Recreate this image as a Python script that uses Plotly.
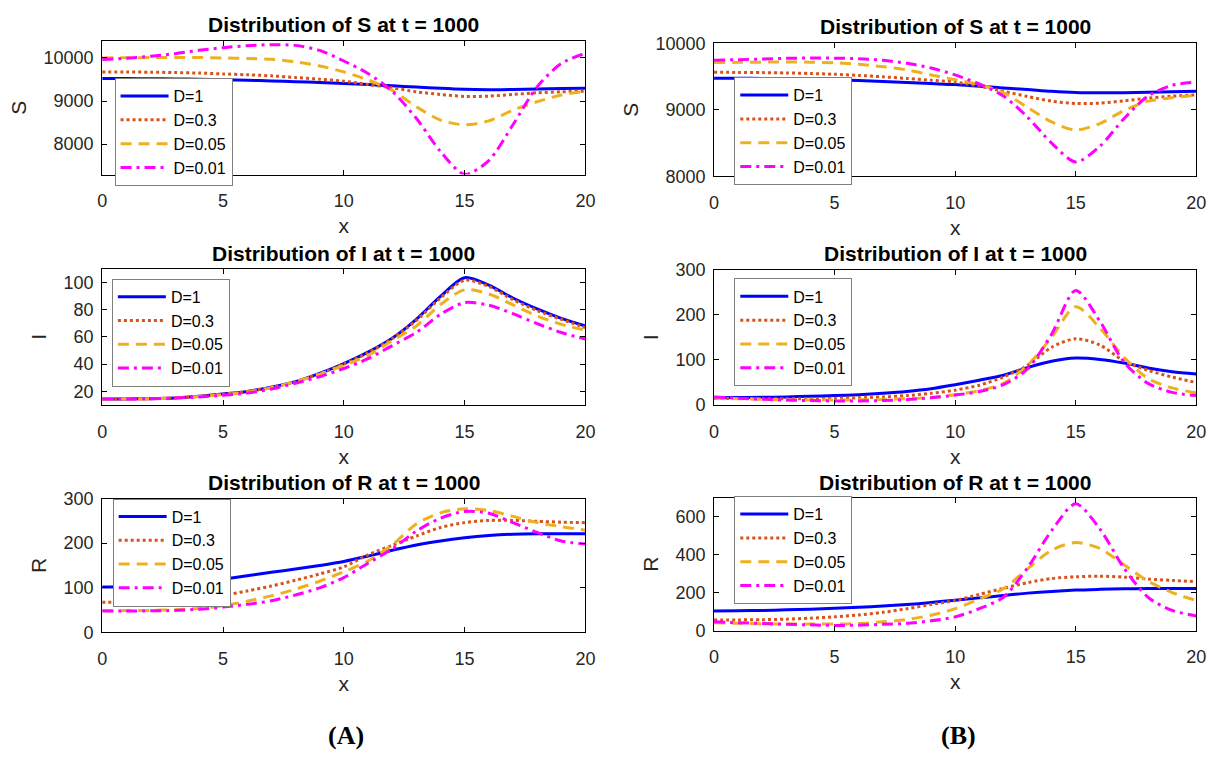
import plotly.graph_objects as go

W, H = 1229, 761

x = list(range(21))
labels = ["D=1", "D=0.3", "D=0.05", "D=0.01"]
colors = ["#0000FF", "#D95319", "#EDB120", "#FF00FF"]
dashes = ["solid", "3px,3px", "11px,7px", "11px,5px,3px,5px"]

# Panel (A)
A_S = [
    [9523, 9521, 9518, 9513, 9505, 9495, 9482, 9467, 9450, 9430, 9408, 9382, 9354, 9325, 9295, 9272, 9265, 9268, 9280, 9292, 9300],
    [9677, 9675, 9670, 9662, 9650, 9630, 9610, 9585, 9546, 9508, 9462, 9385, 9308, 9215, 9154, 9108, 9115, 9154, 9192, 9215, 9230],
    [10000, 10005, 10010, 10012, 10010, 10000, 9990, 9970, 9910, 9815, 9677, 9490, 9250, 8870, 8560, 8450, 8540, 8790, 8985, 9140, 9230],
    [9962, 9995, 10038, 10100, 10177, 10238, 10285, 10308, 10292, 10175, 9930, 9640, 9230, 8600, 7830, 7300, 7620, 8450, 9330, 9870, 10110],
]
A_I = [
    [14.5, 14.5, 14.7, 15.2, 16.4, 18.1, 20.0, 23.1, 27.2, 33.2, 40.4, 48.8, 59.0, 72.9, 89.7, 103.4, 98.0, 88.5, 80.5, 73.6, 68.0],
    [14.5, 14.5, 14.7, 15.2, 16.3, 18.0, 19.9, 23.0, 27.2, 33.0, 40.0, 48.3, 58.7, 72.0, 88.5, 101.5, 97.0, 87.3, 79.3, 72.9, 66.8],
    [14.5, 14.5, 14.6, 15.2, 16.2, 17.6, 19.5, 22.6, 27.2, 32.5, 39.2, 46.4, 57.2, 68.0, 83.7, 94.5, 91.5, 83.5, 75.3, 69.2, 65.0],
    [14.5, 14.5, 14.6, 15.2, 15.9, 17.1, 18.8, 21.7, 26.0, 30.8, 36.8, 44.0, 53.6, 63.2, 76.5, 85.1, 83.2, 77.0, 69.7, 63.2, 58.4],
]
A_R = [
    [102, 102.5, 104, 107, 112, 119, 127, 135, 142, 150, 159, 171, 184, 196, 205, 212, 217, 220, 221, 221, 221],
    [67.5, 68, 69, 71, 75, 83, 93, 104, 117, 131, 147, 174, 195, 216, 235, 246, 251, 251, 249, 247, 246],
    [49, 49, 49.5, 51, 54, 60, 70, 82, 97, 115, 136, 160, 196, 243, 268, 277, 273, 260, 246, 237, 229],
    [48, 48, 48.5, 49.4, 52, 57, 63, 71, 84, 100, 123, 155, 187, 227, 256, 271, 267, 246, 224, 205, 198],
]
# Panel (B)
B_S = [
    [9477, 9476, 9473, 9469, 9462, 9452, 9440, 9425, 9410, 9395, 9380, 9355, 9330, 9305, 9278, 9260, 9255, 9258, 9265, 9272, 9280],
    [9565, 9563, 9560, 9555, 9547, 9535, 9518, 9497, 9472, 9445, 9418, 9355, 9280, 9200, 9130, 9095, 9100, 9135, 9175, 9205, 9225],
    [9711, 9715, 9718, 9720, 9718, 9708, 9685, 9650, 9600, 9525, 9452, 9380, 9257, 9037, 8817, 8695, 8793, 8988, 9130, 9180, 9220],
    [9746, 9755, 9765, 9775, 9780, 9778, 9770, 9745, 9700, 9630, 9525, 9389, 9208, 8890, 8499, 8215, 8450, 8866, 9208, 9369, 9418],
]
B_I = [
    [16, 16.5, 17, 18, 19.5, 21, 23, 26, 30, 36, 45, 55, 66, 83, 97, 104, 101, 93, 82, 74, 69],
    [15, 14.5, 14, 14, 14, 15, 16, 18, 21, 26, 33, 44, 62, 88, 128, 147, 133, 98, 77, 62, 50],
    [16, 14, 12.5, 11.5, 11, 11, 11.5, 12.5, 14, 17, 23, 32, 48, 88, 150, 218, 171, 106, 59, 38, 27],
    [18, 15, 13, 11, 10, 9, 9, 10, 12, 16, 22, 30, 45, 80, 157, 254, 186, 95, 48, 28, 21],
]
B_R = [
    [103, 104, 106, 109, 112, 117, 122, 129, 137, 148, 160, 172, 185, 197, 206, 213, 217, 220, 221, 221, 221],
    [55, 56, 57, 60, 65, 72, 82, 96, 115, 137, 158, 190, 222, 252, 274, 283, 286, 281, 271, 264, 257],
    [41, 38, 36, 34, 34, 34, 37, 46, 58, 81, 115, 166, 220, 325, 423, 463, 432, 346, 260, 200, 158],
    [46, 41, 37, 33, 30, 27, 28, 33, 38, 51, 72, 115, 175, 330, 526, 667, 535, 329, 175, 106, 77],
]

panels = [
    dict(data=A_S, title="Distribution of S at t = 1000", ylab="S", yr=[7295, 10390], yt=[8000, 9000, 10000]),
    dict(data=B_S, title="Distribution of S at t = 1000", ylab="S", yr=[8000, 10000], yt=[8000, 9000, 10000]),
    dict(data=A_I, title="Distribution of I at t = 1000", ylab="I", yr=[10, 110], yt=[20, 40, 60, 80, 100]),
    dict(data=B_I, title="Distribution of I at t = 1000", ylab="I", yr=[0, 300], yt=[0, 100, 200, 300]),
    dict(data=A_R, title="Distribution of R at t = 1000", ylab="R", yr=[0, 300], yt=[0, 100, 200, 300]),
    dict(data=B_R, title="Distribution of R at t = 1000", ylab="R", yr=[0, 700], yt=[0, 200, 400, 600]),
]

# pixel layout boxes (left, right, top, bottom)
boxes = [
    (98.4, 587.6, 32.0, 169.0),
    (717.8, 1206.0, 34.3, 170.7),
    (98.4, 587.6, 265.7, 405.7),
    (717.8, 1206.0, 266.7, 405.7),
    (98.4, 587.6, 501.7, 639.3),
    (717.8, 1206.0, 500.7, 637.3),
]
legpos = [(110.9, 70.0), (738.3, 69.0), (108.2, 276.0), (738.3, 275.7), (109.0, 501.7), (738.3, 499.3)]
title_y = [15.0, 16.7, 250.0, 250.0, 485.0, 485.0]

fig = go.Figure()
layout = dict(
    width=W, height=H, margin=dict(l=0, r=0, t=0, b=0),
    paper_bgcolor="white", plot_bgcolor="white",
    font=dict(family="Liberation Sans, Arial, sans-serif", color="black"),
    annotations=[],
)

for i, p in enumerate(panels):
    k = i + 1
    sfx = "" if k == 1 else str(k)
    legname = "legend" + sfx
    for j in range(4):
        fig.add_trace(go.Scatter(
            x=x, y=p["data"][j], mode="lines", name=labels[j],
            line=dict(color=colors[j], width=3, dash=dashes[j], shape="spline", smoothing=0.8),
            xaxis="x" + sfx, yaxis="y" + sfx, legend=legname, showlegend=True,
        ))
    l, r, t, b = boxes[i]
    axcommon = dict(showline=True, linecolor="black", linewidth=1, mirror="ticks",
                    ticks="inside", ticklen=5, tickcolor="black", showgrid=False,
                    zeroline=False, tickfont=dict(size=18, color="#262626"))
    layout["xaxis" + sfx] = dict(
        domain=[l / W, r / W], anchor="y" + sfx, range=[0, 20],
        tickvals=[0, 5, 10, 15, 20], ticklabelstandoff=10,
        title=dict(text="x", font=dict(size=21, color="#262626"), standoff=8), **axcommon)
    layout["yaxis" + sfx] = dict(
        domain=[1 - b / H, 1 - t / H], anchor="x" + sfx, range=p["yr"],
        tickvals=p["yt"], tickformat="d", ticklabelstandoff=4,
        title=dict(text=p["ylab"], font=dict(size=21, color="#262626"), standoff=11), **axcommon)
    lx, ly = legpos[i]
    layout[legname] = dict(
        x=lx / W, y=1 - ly / H, xanchor="left", yanchor="top",
        bgcolor="white", bordercolor="#7f7f7f", borderwidth=1,
        font=dict(size=16, color="black"), itemwidth=48,
    )
    layout["annotations"].append(dict(
        text="<b>" + p["title"] + "</b>", x=(l + r) / 2 / W, y=1 - title_y[i] / H,
        xref="paper", yref="paper", showarrow=False, xanchor="center", yanchor="middle",
        font=dict(size=21, color="black")))

for txt, cx in [("(A)", 345), ("(B)", 965)]:
    layout["annotations"].append(dict(
        text="<b>" + txt + "</b>", x=cx / W, y=1 - 745 / H, xref="paper", yref="paper",
        showarrow=False, xanchor="center", yanchor="middle",
        font=dict(size=26, family="Liberation Serif, Times New Roman, serif", color="black")))

fig.update_layout(**layout)
fig.write_html("out.html")
